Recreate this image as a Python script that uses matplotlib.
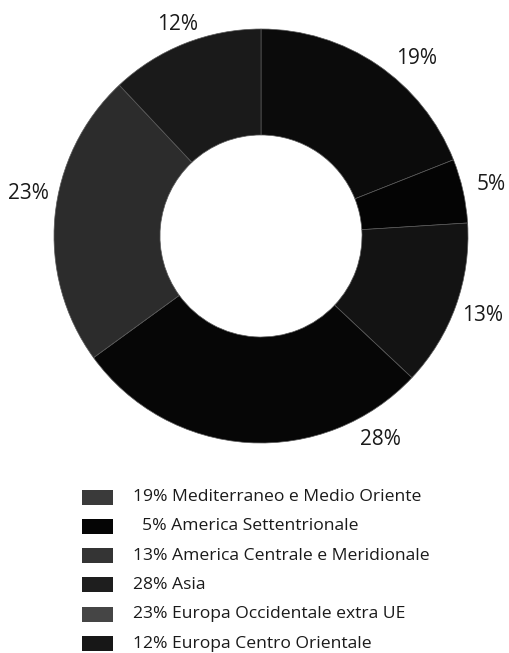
import numpy as np
import matplotlib
matplotlib.use('Agg')
import matplotlib.pyplot as plt
from matplotlib.patches import Rectangle

plt.rcParams['font.family'] = ['Open Sans', 'DejaVu Sans']

# Dati
regioni = ['Mediterraneo e Medio Oriente', 'America Settentrionale',
           'America Centrale e Meridionale', 'Asia',
           'Europa Occidentale extra UE', 'Europa Centro Orientale']
quote = [19, 5, 13, 28, 23, 12]
colori = ['#0b0b0b', '#040404', '#131313', '#060606', '#2c2c2c', '#1a1a1a']
colori_legenda = ['#3a3a3a', '#050505', '#343434', '#1e1e1e', '#454545', '#171717']

W, H = 510, 653
fig = plt.figure(figsize=(W / 100, H / 100), dpi=100)

# Ciambella: centro (261, 236) px, raggio 207 px
cx, cy, r = 261, 236, 207
ax = fig.add_axes([(cx - r) / W, (H - cy - r) / H, 2 * r / W, 2 * r / H])
wedges, _ = ax.pie(quote, startangle=90, counterclock=False, radius=1,
                   colors=colori,
                   wedgeprops=dict(width=0.512, edgecolor='#5a5a5a', linewidth=0.5))
ax.set_xlim(-1, 1)
ax.set_ylim(-1, 1)
ax.set_aspect('equal')
ax.axis('off')

# Etichette percentuali fuori dall'anello
spostamenti = {0: -7, 3: 34, 4: -5}  # gradi rispetto al centro dello spicchio
for i, (w, q) in enumerate(zip(wedges, quote)):
    ang = (w.theta1 + w.theta2) / 2 + spostamenti.get(i, 0)
    dist = 1.10 if i == 5 else 1.14
    x = dist * np.cos(np.radians(ang))
    y = dist * np.sin(np.radians(ang))
    ax.text(x, y, f'{q}%', ha='center', va='center', fontsize=15,
            color='#1a1a1a', clip_on=False)

# Legenda
y0, passo = 497, 29.3
for i, (nome, q, c) in enumerate(zip(regioni, quote, colori_legenda)):
    yy = y0 + i * passo
    fig.add_artist(Rectangle((82 / W, (H - yy - 7.5) / H), 31 / W, 15 / H,
                             transform=fig.transFigure, facecolor=c,
                             edgecolor='none'))
    etichetta = f'{q}% {nome}' if q >= 10 else f'  {q}% {nome}'
    fig.text(133 / W, (H - yy) / H, etichetta, ha='left', va='center',
             fontsize=12.6, color='#1a1a1a')

plt.savefig('out.png', dpi=100)
